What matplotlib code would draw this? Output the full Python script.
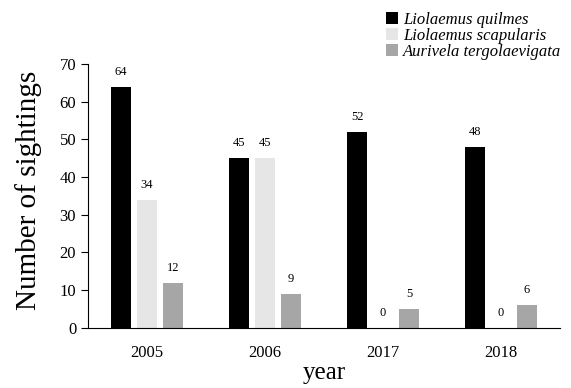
import numpy as np
import matplotlib.pyplot as plt

years = ["2005", "2006", "2017", "2018"]
quilmes = [64, 45, 52, 48]
scapularis = [34, 45, 0, 0]
tergo = [12, 9, 5, 6]

plt.rcParams['font.family'] = ['Liberation Serif', 'DejaVu Serif']

fig = plt.figure(figsize=(5.71, 3.88), dpi=100)
ax = fig.add_axes([0.154, 0.155, 0.827, 0.68])

x = np.arange(len(years))
w = 0.175
off = 0.22
series = [(quilmes, '#000000', 'Liolaemus quilmes'),
          (scapularis, '#e6e6e6', 'Liolaemus scapularis'),
          (tergo, '#a6a6a6', 'Aurivela tergolaevigata')]
for i, (vals, col, lab) in enumerate(series):
    pos = x + (i - 1) * off
    ax.bar(pos, vals, width=w, color=col, label=lab)
    for p, v in zip(pos, vals):
        ax.text(p, v + 2.4, str(v), ha='center', va='bottom', fontsize=9)

ax.set_xlim(-0.5, 3.5)
ax.set_ylim(0, 70)
ax.set_yticks(range(0, 71, 10))
ax.set_xticks(x)
ax.set_xticklabels(years, fontsize=12)
ax.tick_params(axis='x', length=0, pad=12)
ax.tick_params(axis='y', labelsize=12, length=5, direction='out')
ax.spines['top'].set_visible(False)
ax.spines['right'].set_visible(False)
ax.set_ylabel("Number of sightings", fontsize=21)
ax.yaxis.set_label_coords(-0.098, 0.52)
ax.set_xlabel("year", fontsize=18, labelpad=1)

leg = ax.legend(loc='upper right', bbox_to_anchor=(1.02, 1.23), frameon=False,
                prop={'style': 'italic', 'size': 12}, handlelength=0.75,
                handleheight=0.75, handletextpad=0.3, labelspacing=0.0,
                borderpad=0)

fig.savefig("out.png", dpi=100)
